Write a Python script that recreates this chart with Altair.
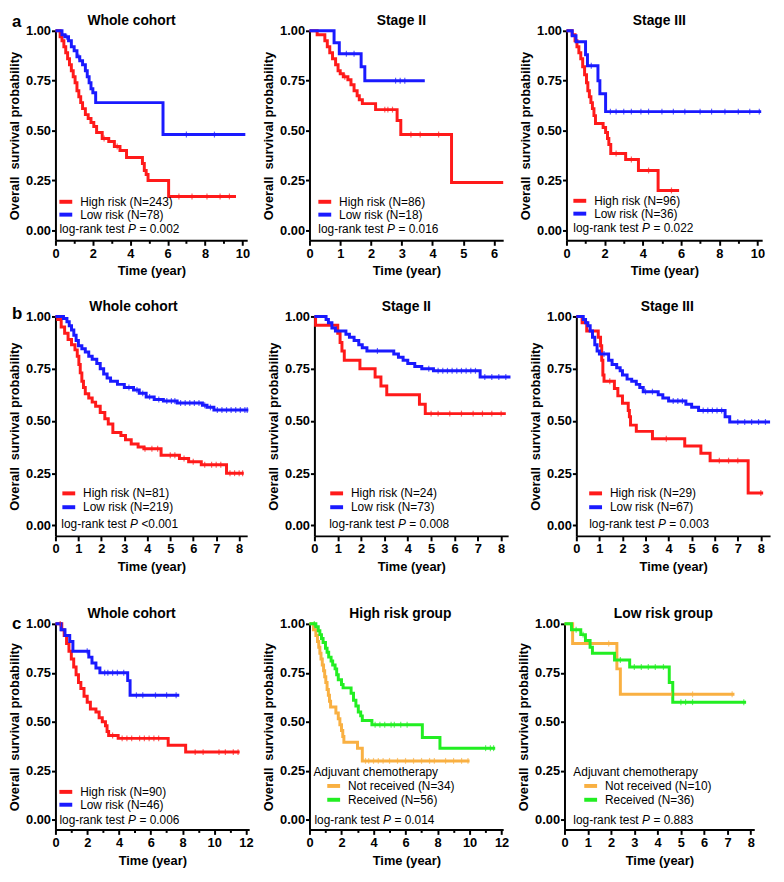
import bisect
import altair as alt
import pandas as pd

FONT = "Liberation Sans"
RED, BLUE, ORANGE, GREEN = "#FF1A1A", "#1A1AFF", "#F9B042", "#22EE22"
Y_TITLE = "Overall\u00a0 survival probability"
X_TITLE = "Time (year)"
Y_TICKS = [0.0, 0.25, 0.5, 0.75, 1.0]

# ---------------- titles / labels ----------------
titles = ["Whole cohort", "Stage II", "Stage III",
          "Whole cohort", "Stage II", "Stage III",
          "Whole cohort", "High risk group", "Low risk group"]
row_letters = ["a", "b", "c"]
labels = [
    ["High risk (N=243)", "Low risk (N=78)"],
    ["High risk (N=86)", "Low risk (N=18)"],
    ["High risk (N=96)", "Low risk (N=36)"],
    ["High risk (N=81)", "Low risk (N=219)"],
    ["High risk (N=24)", "Low risk (N=73)"],
    ["High risk (N=29)", "Low risk (N=67)"],
    ["High risk (N=90)", "Low risk (N=46)"],
    ["Not received (N=34)", "Received (N=56)"],
    ["Not received (N=10)", "Received (N=36)"],
]
pvals = ["= 0.002", "= 0.016", "= 0.022", "<0.001", "= 0.008", "= 0.003",
         "= 0.006", "= 0.014", "= 0.883"]
legend_titles = [None, None, None, None, None, None, None,
                 "Adjuvant chemotherapy", "Adjuvant chemotherapy"]
x_max = [10.25, 6.3, 10.25, 8.35, 8.3, 8.4, 12.2, 12.1, 8.15]

# ---------------- curves (time, survival) & censor times ----------------
a1_high_t = [0, 0.25, 0.35, 0.45, 0.55, 0.65, 0.75, 0.85, 0.95, 1.05, 1.15, 1.25, 1.35, 1.45, 1.6, 1.75, 1.9, 2.05, 2.2, 2.5, 2.85, 3.15, 3.45, 3.8, 4.65, 4.75, 4.85, 4.95, 6.05, 9.65]
a1_high_s = [1.0, 0.97, 0.95, 0.92, 0.89, 0.86, 0.83, 0.80, 0.77, 0.74, 0.70, 0.67, 0.64, 0.61, 0.58, 0.56, 0.54, 0.52, 0.49, 0.46, 0.445, 0.42, 0.40, 0.365, 0.335, 0.30, 0.28, 0.25, 0.17, 0.17]
a1_high_c = [2.6, 3.3, 6.6, 7.3, 8.1, 8.8, 9.3]
a1_low_t = [0, 0.35, 0.5, 0.7, 0.85, 1.0, 1.15, 1.3, 1.45, 1.6, 1.7, 1.8, 1.9, 2.0, 2.15, 5.75, 10.15]
a1_low_s = [1.0, 0.98, 0.97, 0.95, 0.92, 0.90, 0.87, 0.85, 0.83, 0.80, 0.77, 0.74, 0.71, 0.69, 0.64, 0.48, 0.48]
a1_low_c = [0.6, 1.25, 7.0, 8.5]

a2_high_t = [0, 0.25, 0.5, 0.58, 0.66, 0.75, 0.85, 0.93, 1.0, 1.1, 1.25, 1.35, 1.45, 1.55, 1.62, 1.72, 2.15, 2.85, 2.97, 4.62, 6.3]
a2_high_s = [1.0, 0.98, 0.95, 0.92, 0.89, 0.86, 0.83, 0.80, 0.785, 0.77, 0.755, 0.73, 0.70, 0.675, 0.655, 0.635, 0.605, 0.55, 0.48, 0.24, 0.24]
a2_high_c = [1.15, 2.45, 2.55, 2.7, 3.3, 3.6, 4.2]
a2_low_t = [0, 0.8, 0.97, 1.68, 1.8, 3.75]
a2_low_s = [1.0, 0.94, 0.885, 0.82, 0.75, 0.75]
a2_low_c = [1.2, 1.45, 2.8, 2.95, 3.1]

a3_high_t = [0, 0.3, 0.45, 0.55, 0.65, 0.75, 0.85, 0.95, 1.05, 1.12, 1.2, 1.28, 1.36, 1.44, 1.52, 1.92, 2.05, 2.15, 2.22, 2.32, 3.1, 3.77, 4.8, 5.9]
a3_high_s = [1.0, 0.98, 0.95, 0.92, 0.89, 0.86, 0.82, 0.78, 0.74, 0.70, 0.67, 0.64, 0.61, 0.575, 0.535, 0.515, 0.49, 0.46, 0.43, 0.385, 0.355, 0.30, 0.20, 0.20]
a3_high_c = [2.6, 3.4, 4.3, 5.5]
a3_low_t = [0, 0.3, 0.5, 1.0, 1.1, 1.65, 1.75, 2.05, 10.2]
a3_low_s = [1.0, 0.975, 0.945, 0.88, 0.825, 0.75, 0.685, 0.595, 0.595]
a3_low_c = [1.3, 2.3, 2.6, 3.0, 3.4, 3.9, 4.3, 5.0, 5.6, 6.2, 7.0, 7.6, 8.3, 9.0, 9.6, 10.1]

b1_high_t = [0, 0.1, 0.25, 0.4, 0.55, 0.7, 0.85, 0.95, 1.02, 1.08, 1.15, 1.22, 1.3, 1.45, 1.6, 1.75, 1.95, 2.15, 2.3, 2.5, 2.85, 3.05, 3.3, 3.6, 3.85, 4.6, 5.4, 5.8, 6.35, 7.45, 8.2]
b1_high_s = [1.0, 0.985, 0.95, 0.92, 0.89, 0.865, 0.84, 0.81, 0.77, 0.73, 0.69, 0.66, 0.63, 0.61, 0.59, 0.57, 0.54, 0.51, 0.485, 0.445, 0.43, 0.41, 0.39, 0.375, 0.367, 0.336, 0.32, 0.305, 0.29, 0.25, 0.25]
b1_high_c = [3.9, 4.2, 4.45, 5.0, 5.2, 5.6, 6.0, 6.5, 6.8, 7.0, 7.2, 7.6, 7.8, 8.0, 8.15]
b1_low_t = [0, 0.35, 0.5, 0.6, 0.7, 0.8, 0.9, 1.0, 1.15, 1.3, 1.45, 1.6, 1.8, 1.95, 2.1, 2.25, 2.4, 2.7, 3.0, 3.4, 3.65, 3.95, 4.3, 4.7, 5.3, 6.4, 6.6, 6.9, 8.4]
b1_low_s = [1.0, 0.99, 0.975, 0.955, 0.935, 0.91, 0.885, 0.86, 0.845, 0.83, 0.81, 0.795, 0.775, 0.75, 0.725, 0.705, 0.69, 0.675, 0.66, 0.648, 0.632, 0.615, 0.603, 0.595, 0.586, 0.575, 0.565, 0.552, 0.552]
b1_low_c = [3.2, 3.55, 3.8, 4.1, 4.5, 4.85, 5.05, 5.2, 5.45, 5.65, 5.85, 6.05, 6.25, 6.5, 6.75, 7.05, 7.25, 7.45, 7.65, 7.85, 8.05, 8.25, 8.35]

b2_high_t = [0, 0.05, 1.0, 1.1, 1.18, 1.28, 1.95, 2.6, 2.85, 3.1, 4.5, 4.75, 8.2]
b2_high_s = [1.0, 0.958, 0.92, 0.875, 0.835, 0.79, 0.75, 0.71, 0.667, 0.625, 0.58, 0.535, 0.535]
b2_high_c = [5.0, 5.3, 5.8, 6.3, 6.8, 7.2, 7.6, 8.0]
b2_low_t = [0, 0.5, 0.6, 0.75, 0.9, 1.35, 1.5, 1.7, 1.9, 2.05, 2.25, 3.4, 3.6, 3.8, 4.0, 4.3, 4.6, 5.1, 7.1, 8.4]
b2_low_s = [1.0, 0.985, 0.97, 0.945, 0.93, 0.915, 0.90, 0.885, 0.865, 0.85, 0.835, 0.82, 0.805, 0.79, 0.775, 0.76, 0.75, 0.74, 0.71, 0.71]
b2_low_c = [2.7, 4.9, 5.3, 5.5, 5.7, 5.9, 6.1, 6.3, 6.5, 6.7, 6.9, 7.3, 7.6, 7.9, 8.2]

b3_high_t = [0, 0.25, 0.45, 0.95, 1.05, 1.1, 1.15, 1.2, 1.65, 1.8, 2.0, 2.25, 2.3, 2.35, 2.6, 3.3, 4.7, 5.4, 5.8, 7.45, 8.1]
b3_high_s = [1.0, 0.97, 0.93, 0.90, 0.86, 0.79, 0.72, 0.69, 0.655, 0.62, 0.585, 0.55, 0.52, 0.48, 0.45, 0.415, 0.38, 0.345, 0.31, 0.155, 0.155]
b3_high_c = [1.45, 3.9, 6.2, 6.6, 7.0, 8.0]
b3_low_t = [0, 0.3, 0.4, 0.5, 0.6, 0.7, 0.8, 0.9, 1.0, 1.4, 1.55, 1.75, 1.9, 2.0, 2.2, 2.4, 2.6, 2.75, 2.9, 3.55, 3.75, 4.0, 4.75, 5.0, 5.3, 6.45, 6.65, 8.4]
b3_low_s = [1.0, 0.985, 0.97, 0.955, 0.93, 0.90, 0.865, 0.835, 0.82, 0.79, 0.77, 0.755, 0.74, 0.72, 0.70, 0.69, 0.675, 0.66, 0.64, 0.625, 0.61, 0.595, 0.58, 0.565, 0.55, 0.52, 0.495, 0.495]
b3_low_c = [1.2, 3.0, 3.3, 4.2, 4.4, 4.6, 5.5, 5.7, 5.9, 6.1, 6.3, 7.0, 7.3, 7.6, 7.9, 8.2]

c1_high_t = [0, 0.4, 0.55, 0.7, 0.85, 1.0, 1.15, 1.3, 1.45, 1.6, 1.8, 2.0, 2.2, 2.55, 2.75, 2.95, 3.15, 3.25, 3.35, 3.95, 7.1, 8.2, 11.6]
c1_high_s = [1.0, 0.97, 0.94, 0.90, 0.86, 0.82, 0.78, 0.74, 0.70, 0.67, 0.63, 0.60, 0.565, 0.55, 0.52, 0.50, 0.48, 0.45, 0.43, 0.415, 0.38, 0.345, 0.345]
c1_high_c = [0.3, 3.6, 4.2, 4.5, 4.8, 5.3, 5.6, 5.9, 6.2, 6.5, 8.8, 9.3, 10.3, 10.7, 11.2, 11.5]
c1_low_t = [0, 0.35, 0.6, 0.9, 1.1, 2.1, 2.3, 2.55, 2.8, 4.55, 4.7, 7.8]
c1_low_s = [1.0, 0.97, 0.94, 0.91, 0.86, 0.83, 0.80, 0.775, 0.75, 0.71, 0.635, 0.635]
c1_low_c = [2.0, 3.1, 3.3, 3.6, 3.9, 4.3, 5.1, 5.5, 6.3, 7.0, 7.6]

c2_not_t = [0, 0.25, 0.4, 0.5, 0.58, 0.65, 0.72, 0.8, 0.88, 0.95, 1.02, 1.1, 1.18, 1.25, 1.32, 1.65, 1.8, 1.9, 2.0, 2.08, 2.15, 3.0, 3.3, 10.0]
c2_not_s = [1.0, 0.97, 0.94, 0.91, 0.88, 0.85, 0.82, 0.79, 0.76, 0.73, 0.70, 0.665, 0.635, 0.605, 0.575, 0.545, 0.515, 0.485, 0.455, 0.425, 0.395, 0.365, 0.30, 0.30]
c2_not_c = [3.5, 3.7, 4.0, 4.3, 4.6, 5.0, 5.5, 6.0, 6.5, 7.0, 7.5, 7.8, 8.5, 9.0, 9.5, 9.9]
c2_rec_t = [0, 0.4, 0.55, 0.65, 0.75, 0.85, 1.0, 1.1, 1.2, 1.35, 1.45, 1.6, 1.7, 1.8, 2.0, 2.1, 2.6, 2.75, 2.9, 3.05, 3.2, 3.3, 3.9, 7.05, 8.15, 11.6]
c2_rec_s = [1.0, 0.985, 0.965, 0.945, 0.925, 0.905, 0.875, 0.855, 0.83, 0.81, 0.79, 0.77, 0.74, 0.715, 0.69, 0.673, 0.645, 0.61, 0.58, 0.55, 0.53, 0.506, 0.485, 0.42, 0.365, 0.365]
c2_rec_c = [0.3, 4.1, 4.4, 4.7, 5.1, 5.3, 5.7, 6.1, 11.0, 11.3, 11.5]

c3_not_t = [0, 0.35, 2.25, 2.4, 7.3]
c3_not_s = [1.0, 0.90, 0.77, 0.64, 0.64]
c3_not_c = [1.9, 4.6, 5.5, 7.2]
c3_rec_t = [0, 0.3, 0.7, 0.9, 1.1, 1.2, 2.15, 2.8, 4.5, 4.65, 7.8]
c3_rec_s = [1.0, 0.97, 0.945, 0.915, 0.88, 0.85, 0.815, 0.78, 0.70, 0.60, 0.60]
c3_rec_c = [0.5, 0.8, 2.4, 3.0, 3.3, 3.6, 3.9, 4.25, 5.0, 5.2, 5.5, 7.7]

curves = [
    [(a1_high_t, a1_high_s, a1_high_c), (a1_low_t, a1_low_s, a1_low_c)],
    [(a2_high_t, a2_high_s, a2_high_c), (a2_low_t, a2_low_s, a2_low_c)],
    [(a3_high_t, a3_high_s, a3_high_c), (a3_low_t, a3_low_s, a3_low_c)],
    [(b1_high_t, b1_high_s, b1_high_c), (b1_low_t, b1_low_s, b1_low_c)],
    [(b2_high_t, b2_high_s, b2_high_c), (b2_low_t, b2_low_s, b2_low_c)],
    [(b3_high_t, b3_high_s, b3_high_c), (b3_low_t, b3_low_s, b3_low_c)],
    [(c1_high_t, c1_high_s, c1_high_c), (c1_low_t, c1_low_s, c1_low_c)],
    [(c2_not_t, c2_not_s, c2_not_c), (c2_rec_t, c2_rec_s, c2_rec_c)],
    [(c3_not_t, c3_not_s, c3_not_c), (c3_rec_t, c3_rec_s, c3_rec_c)],
]
colors = [[RED, BLUE]] * 7 + [[ORANGE, GREEN]] * 2

# ---------------- layout (styles only) ----------------
widths = [194, 196, 198, 194, 196, 196, 196, 196, 192]
heights = [212] * 3 + [222] * 3 + [208] * 3
every2 = [True, False, True, False, False, False, True, True, False]
title_cx = [77, 93, 94, 79, 93, 92, 77, 92, 100]
# legend swatch x, legend rows (px above plot bottom), log-rank x / height,
# legend-title x / height
lay = [
    dict(sw=4, rows=(39, 26), lx=4, ly=11),
    dict(sw=9, rows=(39, 26), lx=9, ly=11),
    dict(sw=7, rows=(40, 27), lx=7, ly=12),
    dict(sw=7, rows=(43, 29), lx=6, ly=12),
    dict(sw=16, rows=(43, 29), lx=15, ly=12),
    dict(sw=13, rows=(43, 29), lx=13, ly=12),
    dict(sw=4, rows=(38, 25), lx=4, ly=10),
    dict(sw=18, rows=(44, 30), lx=5, ly=10, tx=4, ty=58),
    dict(sw=20, rows=(44, 30), lx=9, ly=10, tx=9, ty=58),
]
letter_pos = {0: (-44, -9), 3: (-44, -2), 6: (-44, 0)}


def step_value(ts, ss, t):
    i = bisect.bisect_right(ts, t) - 1
    return ss[max(i, 0)]


def text_layer(s, x, y, size=12, style="normal", weight="normal", align="left"):
    return alt.Chart(pd.DataFrame({"v": [s]})).mark_text(
        align=align, baseline="middle", font=FONT, fontSize=size,
        fontStyle=style, fontWeight=weight, color="black"
    ).encode(text="v:N", x=alt.value(x), y=alt.value(y))


def swatch_layer(color, x, y):
    return alt.Chart(pd.DataFrame({"v": [0]})).mark_rule(
        color=color, strokeWidth=4
    ).encode(x=alt.value(x), x2=alt.value(x + 13), y=alt.value(y))


def make_panel(i):
    w, h, L = widths[i], heights[i], lay[i]
    rows = []
    for lab, (ts, ss, _) in zip(labels[i], curves[i]):
        rows += [{"t": t, "s": s, "grp": lab} for t, s in zip(ts, ss)]
    ldf = pd.DataFrame(rows)

    ticks = list(range(0, int(x_max[i]) + 1))
    ax = dict(values=ticks, labelFlush=False, labelOverlap=False)
    if every2[i]:
        ax["labelExpr"] = "datum.value % 2 === 0 ? datum.label : ''"
        ax["tickSize"] = {"condition": {"test": "datum.value % 2 === 1", "value": 3}, "value": 5}
    x = alt.X("t:Q", title=X_TITLE,
              scale=alt.Scale(domain=[0, x_max[i]], nice=False, zero=False),
              axis=alt.Axis(**ax))
    y = alt.Y("s:Q", title=Y_TITLE,
              scale=alt.Scale(domain=[-0.05, 1.0], nice=False, zero=False),
              axis=alt.Axis(values=Y_TICKS, format=".2f", labelFlush=False))

    layers = [
        alt.Chart(ldf).mark_line(interpolate="step-after", strokeWidth=3).encode(
            x=x, y=y,
            color=alt.Color("grp:N", scale=alt.Scale(domain=labels[i], range=colors[i]),
                            legend=None),
        )
    ]
    for col, (ts, ss, cens) in zip(colors[i], curves[i]):
        cdf = pd.DataFrame({"t": cens, "s": [step_value(ts, ss, c) for c in cens]})
        layers.append(
            alt.Chart(cdf).mark_tick(orient="vertical", size=6, thickness=1.2, color=col)
            .encode(x=x, y=y)
        )
    # legend (swatches + labels)
    for lab, col, r in zip(labels[i], colors[i], L["rows"]):
        layers.append(swatch_layer(col, L["sw"], h - r))
        layers.append(text_layer(lab, L["sw"] + 21, h - r, size=12))
    if legend_titles[i]:
        layers.append(text_layer(legend_titles[i], L["tx"], h - L["ty"], size=12))
    # log-rank annotation
    lx, ly = L["lx"], h - L["ly"]
    layers.append(text_layer("log-rank test", lx, ly))
    layers.append(text_layer("P", lx + 69.5, ly, style="italic"))
    layers.append(text_layer(pvals[i], lx + 81, ly))
    # panel title and row letter
    layers.append(text_layer(titles[i], title_cx[i], -10, size=14, weight="bold", align="center"))
    if i in letter_pos:
        px, py = letter_pos[i]
        layers.append(text_layer(row_letters[i // 3], px, py, size=17, weight="bold"))

    return alt.layer(*layers).properties(width=w, height=h)


panels = [make_panel(i) for i in range(9)]
rowA = alt.hconcat(*panels[0:3], spacing=10).resolve_scale(color="independent")
rowB = alt.hconcat(*panels[3:6], spacing=12).resolve_scale(color="independent")
rowC = alt.hconcat(*panels[6:9], spacing=8).resolve_scale(color="independent")
top = alt.vconcat(rowA, rowB, spacing=22).resolve_scale(color="independent")
chart = alt.vconcat(top, rowC, spacing=34).resolve_scale(color="independent").properties(padding=0)

chart = chart.configure_view(stroke=None).configure_axis(
    domainColor="black", domainWidth=2, tickColor="black", tickWidth=2, grid=False,
    labelFont=FONT, labelFontSize=13, labelFontWeight="bold", labelColor="black",
    titleFont=FONT, titleFontSize=13, titleFontWeight="bold", titleColor="black",
).configure_axisX(tickSize=5, labelPadding=2, titlePadding=5).configure_axisY(
    tickSize=4, labelPadding=1, titlePadding=4
)

chart.save("out.html", embed_options={"renderer": "svg", "actions": False})
